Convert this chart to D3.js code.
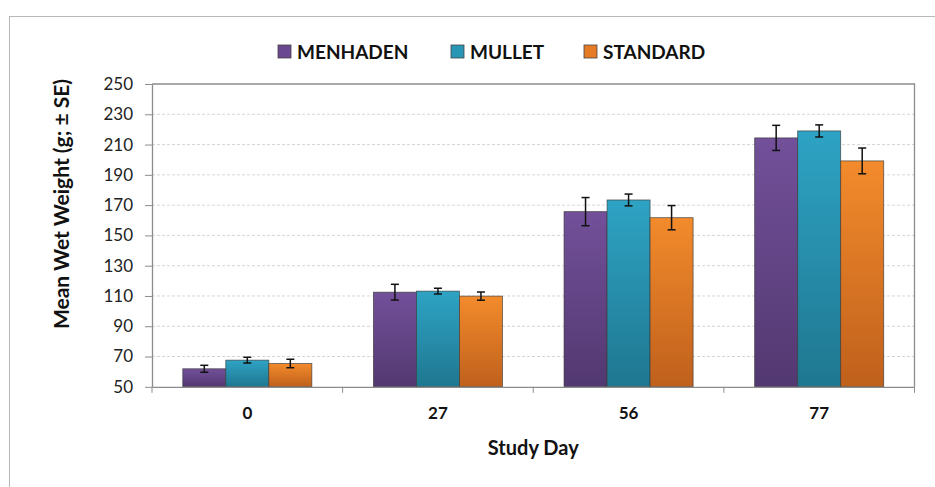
<!DOCTYPE html>
<html>
<head>
<meta charset="utf-8">
<script src="https://cdn.jsdelivr.net/npm/d3@7"></script>
<style>
  html, body { margin: 0; padding: 0; background: #fff; }
  svg { display: block; }
  text { font-family: Lato, "Open Sans", sans-serif; }
</style>
</head>
<body>
<svg id="chart" width="935" height="487"></svg>
<script>
// Study days (categories)
const days = ["0", "27", "56", "77"];
// Diet groups
const seriesNames = ["MENHADEN", "MULLET", "STANDARD"];
// Mean wet weight (g) per diet and day
const menhaden = [61.9, 112.5, 165.7, 214.4];
const mullet   = [67.6, 113.2, 173.4, 219.0];
const standard = [65.4, 109.9, 161.7, 199.2];
// Standard errors
const menhadenSE = [2.3, 5.2, 9.3, 8.3];
const mulletSE   = [1.9, 1.9, 3.9, 4.0];
const standardSE = [2.8, 2.7, 8.0, 8.5];
// Y-axis ticks
const yTicks = [50, 70, 90, 110, 130, 150, 170, 190, 210, 230, 250];

const values = [menhaden, mullet, standard];
const errors = [menhadenSE, mulletSE, standardSE];
const colorsTop = ["#73509a", "#2ea3c4", "#f38b2c"];
const colorsBottom = ["#523870", "#1f7790", "#bf601c"];
const legendColors = ["#6a4791", "#2896b5", "#e67b25"];

const svg = d3.select("#chart");
const W = 935, H = 487;
const m = { left: 152, right: W - 914.5, top: 84, bottom: H - 386.8 };

// Outer chart-area frame (extends past right/bottom of view)
svg.append("rect")
  .attr("x", 9.5).attr("y", 16.5)
  .attr("width", 1000).attr("height", 600)
  .attr("fill", "none").attr("stroke", "#b8b8b8").attr("stroke-width", 1);

const x = d3.scaleBand().domain(days)
  .range([m.left, W - m.right])
  .paddingInner(0.323).paddingOuter(0.1615);
const xs = d3.scaleBand().domain(d3.range(seriesNames.length))
  .range([0, x.bandwidth()]).padding(0);
const y = d3.scaleLinear().domain([50, 250]).range([H - m.bottom, m.top]);

// Gradients
const defs = svg.append("defs");
seriesNames.forEach((s, i) => {
  const g = defs.append("linearGradient").attr("id", "grad" + i)
    .attr("x1", 0).attr("y1", 0).attr("x2", 0).attr("y2", 1)
    .attr("gradientUnits", "objectBoundingBox");
  g.append("stop").attr("offset", "0%").attr("stop-color", colorsTop[i]);
  g.append("stop").attr("offset", "100%").attr("stop-color", colorsBottom[i]);
});

// Gridlines
svg.append("g").selectAll("line")
  .data(yTicks.filter(t => t > 50 && t < 250))
  .join("line")
  .attr("x1", m.left).attr("x2", W - m.right)
  .attr("y1", d => y(d)).attr("y2", d => y(d))
  .attr("stroke", "#d6d6d6").attr("stroke-width", 1)
  .attr("stroke-dasharray", "3,2");

// Plot frame: top and right
svg.append("path")
  .attr("d", `M${m.left},${y(250)}H${W - m.right}V${y(50)}`)
  .attr("fill", "none").attr("stroke", "#8c8c8c").attr("stroke-width", 1.3);

// Bars
const groups = svg.append("g").selectAll("g")
  .data(days).join("g")
  .attr("transform", d => `translate(${x(d)},0)`);

groups.each(function(day, di) {
  const g = d3.select(this);
  seriesNames.forEach((s, si) => {
    const v = values[si][di];
    g.append("rect")
      .attr("x", xs(si)).attr("y", y(v))
      .attr("width", xs.bandwidth()).attr("height", y(50) - y(v))
      .attr("fill", `url(#grad${si})`)
      .attr("stroke", "#3a3a3a").attr("stroke-width", 0.8).attr("stroke-opacity", 0.8);
  });
  seriesNames.forEach((s, si) => {
    const v = values[si][di], e = errors[si][di];
    const cx = xs(si) + xs.bandwidth() / 2;
    const eg = g.append("g").attr("stroke", "#111").attr("stroke-width", 1.5);
    eg.append("line").attr("x1", cx).attr("x2", cx).attr("y1", y(v + e)).attr("y2", y(v - e));
    eg.append("line").attr("x1", cx - 4).attr("x2", cx + 4).attr("y1", y(v + e)).attr("y2", y(v + e));
    eg.append("line").attr("x1", cx - 4).attr("x2", cx + 4).attr("y1", y(v - e)).attr("y2", y(v - e));
  });
});

// Y axis
const yAxis = svg.append("g")
  .attr("transform", `translate(${m.left},0)`)
  .call(d3.axisLeft(y).tickValues(yTicks).tickSize(7).tickPadding(12).tickSizeOuter(0));
yAxis.select(".domain").attr("stroke", "#8c8c8c").attr("stroke-width", 1.3);
yAxis.selectAll(".tick line").attr("stroke", "#8c8c8c");
yAxis.selectAll(".tick text")
  .attr("fill", "#222").style("font-size", "17px").style("font-family", "Lato, sans-serif");

// X axis
const xAxis = svg.append("g")
  .attr("transform", `translate(0,${y(50)})`)
  .call(d3.axisBottom(x).tickSize(0).tickPadding(20));
xAxis.select(".domain").attr("stroke", "#8c8c8c").attr("stroke-width", 1.3);
xAxis.selectAll(".tick text")
  .attr("fill", "#111").style("font-size", "17px").style("font-weight", "bold");
// Category boundary ticks
const step = x.step();
const bounds = d3.range(days.length + 1).map(i => m.left + i * step);
xAxis.append("g").selectAll("line").data(bounds).join("line")
  .attr("x1", d => d).attr("x2", d => d).attr("y1", 0).attr("y2", 6)
  .attr("stroke", "#8c8c8c");

// Axis titles
svg.append("text")
  .attr("transform", "translate(60,204) rotate(-90)")
  .attr("text-anchor", "middle").attr("dominant-baseline", "central")
  .attr("fill", "#111").style("font-size", "21px").style("font-weight", "bold")
  .text("Mean Wet Weight (g; ± SE)");

svg.append("text")
  .attr("x", (m.left + W - m.right) / 2).attr("y", 447)
  .attr("text-anchor", "middle").attr("dominant-baseline", "central")
  .attr("fill", "#111").style("font-size", "20px").style("font-weight", "bold")
  .text("Study Day");

// Legend
const legendX = [278, 451, 584];
const legend = svg.append("g");
seriesNames.forEach((s, i) => {
  legend.append("rect")
    .attr("x", legendX[i]).attr("y", 45)
    .attr("width", 13).attr("height", 13)
    .attr("fill", legendColors[i]).attr("stroke", "#444").attr("stroke-width", 0.8);
  legend.append("text")
    .attr("x", legendX[i] + 19).attr("y", 51.5)
    .attr("dominant-baseline", "central")
    .attr("fill", "#111").style("font-size", "19px").style("font-weight", "bold")
    .text(s);
});
</script>
</body>
</html>
